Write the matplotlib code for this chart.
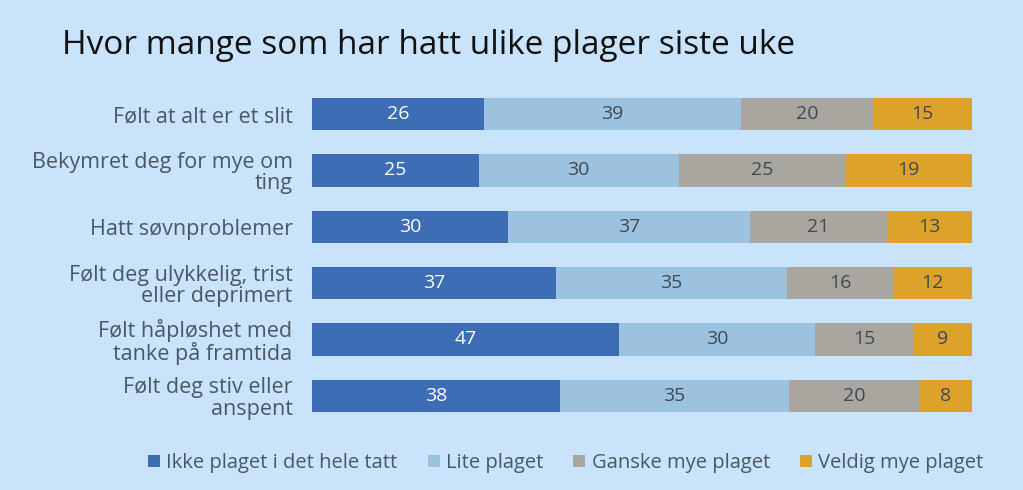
import matplotlib
matplotlib.use("Agg")
import matplotlib.pyplot as plt
import numpy as np

categories = [
    "Følt at alt er et slit",
    "Bekymret deg for mye om\nting",
    "Hatt søvnproblemer",
    "Følt deg ulykkelig, trist\neller deprimert",
    "Følt håpløshet med\ntanke på framtida",
    "Følt deg stiv eller\nanspent",
]
series_names = ["Ikke plaget i det hele tatt", "Lite plaget", "Ganske mye plaget", "Veldig mye plaget"]
ikke = [26, 25, 30, 37, 47, 38]
lite = [39, 30, 37, 35, 30, 35]
ganske = [20, 25, 21, 16, 15, 20]
veldig = [15, 19, 13, 12, 9, 8]

colors = ["#3D6DB5", "#9CC2DF", "#A9A59F", "#DCA22A"]
text_colors = ["white", "#3F4A55", "#3F4A55", "#3F4A55"]
bg = "#C8E3FA"
label_color = "#4A5866"

plt.rcParams['font.family'] = ['Open Sans', 'DejaVu Sans']

fig = plt.figure(figsize=(10.23, 4.9), dpi=100, facecolor=bg)
ax = fig.add_axes([0.305, 0.1347, 0.645, 0.6898])
ax.set_facecolor(bg)

data = np.array([ikke, lite, ganske, veldig], dtype=float)
totals = data.sum(axis=0)
pct = data / totals * 100
y = np.arange(len(categories))
left = np.zeros(len(categories))
for i in range(4):
    bars = ax.barh(y, pct[i], left=left, height=0.57, color=colors[i], label=series_names[i])
    for j, b in enumerate(bars):
        ax.text(left[j] + pct[i][j] / 2, y[j], f"{int(data[i][j])}", ha="center", va="center",
                color=text_colors[i], fontsize=14)
    left += pct[i]

ax.set_xlim(0, 100)
ax.set_ylim(len(categories) - 0.5, -0.5)
ax.set_yticks(y)
ax.set_yticklabels(categories, fontsize=15.5, color=label_color, linespacing=1.02)
ax.tick_params(axis="y", length=0, pad=14)
ax.set_xticks([])
for s in ax.spines.values():
    s.set_visible(False)

fig.text(0.061, 0.907, "Hvor mange som har hatt ulike plager siste uke", fontsize=24, color="#111111",
         ha="left", va="center")

leg = fig.legend(loc="center", bbox_to_anchor=(0.553, 0.055), ncol=4, frameon=False,
                 fontsize=14.5, handlelength=0.6, handleheight=0.6, handletextpad=0.3, columnspacing=1.5)
for t in leg.get_texts():
    t.set_color(label_color)

fig.savefig("out.png", dpi=100, facecolor=bg)
